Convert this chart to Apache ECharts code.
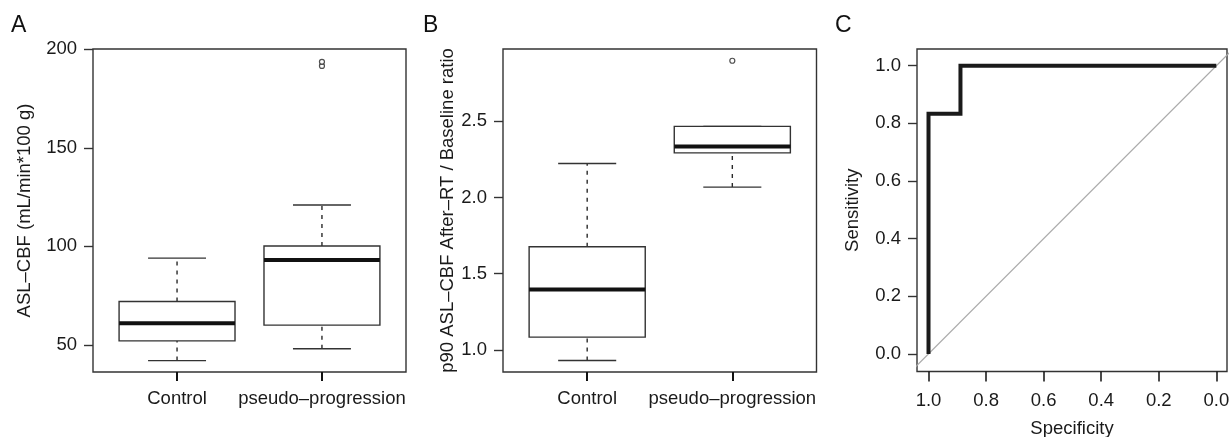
<!DOCTYPE html>
<html>
<head>
<meta charset="utf-8">
<script src="https://cdn.jsdelivr.net/npm/echarts@6/dist/echarts.min.js"></script>
<style>
html,body{margin:0;padding:0;background:#fff;}
#chart{width:1231px;height:437px;}
</style>
</head>
<body>
<div id="chart"></div>
<script>
// ---------- data ----------
const categories = ['Control', 'pseudo\u2013progression'];
// [min whisker, Q1, median, Q3, max whisker]
const cbfControl = [42, 52, 61, 72, 94];
const cbfPseudo = [48, 60, 93.1, 100.2, 121];
const cbfOutliersPseudo = [191.6, 193.7];
const ratioControl = [0.93, 1.083, 1.395, 1.676, 2.223];
const ratioPseudo = [2.068, 2.293, 2.334, 2.467, 2.467];
const ratioOutliersPseudo = [2.898];
const rocSpecificity = [1.0, 1.0, 0.889, 0.889, 0.0];
const rocSensitivity = [0.0, 0.833, 0.833, 1.0, 1.0];
const chanceSpecificity = [1.2, -0.2];
const chanceSensitivity = [-0.2, 1.2];
const cbfTicks = [50, 100, 150, 200];
const ratioTicks = [1.0, 1.5, 2.0, 2.5];
const rocTicks = [0.0, 0.2, 0.4, 0.6, 0.8, 1.0];
const catTicks = [1, 2];
const panelLetters = ['A', 'B', 'C'];
const yTitles = ['ASL\u2013CBF (mL/min*100 g)', 'p90 ASL\u2013CBF After\u2013RT / Baseline ratio', 'Sensitivity'];
const xTitleROC = 'Specificity';

// ---------- helpers ----------
const FONT = 'Liberation Sans, Arial, Helvetica, sans-serif';
const TXT = '#1a1a1a';
const LINE = '#333';
const FS = 18.5;

function boxData(stats) {
  return stats.map((s, i) => [catTicks[i]].concat(s));
}
function boxRender(params, api) {
  const x = api.value(0);
  const lo = api.value(1), q1 = api.value(2), med = api.value(3), q3 = api.value(4), hi = api.value(5);
  const halfBox = 0.4, halfCap = 0.2;
  const pL = api.coord([x - halfBox, q1]);
  const pR = api.coord([x + halfBox, q3]);
  const pc = (v) => api.coord([x, v]);
  const cL = api.coord([x - halfCap, lo])[0];
  const cR = api.coord([x + halfCap, lo])[0];
  const children = [];
  const dash = {stroke: '#2a2a2a', lineWidth: 1.4, lineDash: [4, 5]};
  children.push({type: 'line', shape: {x1: pc(q3)[0], y1: pc(q3)[1], x2: pc(hi)[0], y2: pc(hi)[1]}, style: dash});
  children.push({type: 'line', shape: {x1: pc(lo)[0], y1: pc(lo)[1], x2: pc(q1)[0], y2: pc(q1)[1]}, style: dash});
  children.push({type: 'line', shape: {x1: cL, y1: pc(hi)[1], x2: cR, y2: pc(hi)[1]}, style: {stroke: '#333', lineWidth: 1.4}});
  children.push({type: 'line', shape: {x1: cL, y1: pc(lo)[1], x2: cR, y2: pc(lo)[1]}, style: {stroke: '#333', lineWidth: 1.4}});
  children.push({type: 'rect', shape: {x: pL[0], y: pR[1], width: pR[0] - pL[0], height: pL[1] - pR[1]},
    style: {fill: '#fff', stroke: LINE, lineWidth: 1.4}});
  const m = api.coord([x - halfBox, med]);
  children.push({type: 'line', shape: {x1: pL[0], y1: m[1], x2: pR[0], y2: m[1]}, style: {stroke: '#111', lineWidth: 4}});
  return {type: 'group', children: children};
}

function yAxisCfg(idx, min, max, ticks, fmt, gap) {
  return {
    type: 'value', gridIndex: idx, min: min, max: max, position: 'left',
    splitLine: {show: false}, axisLine: {show: false, onZero: false},
    axisTick: {show: true, length: 9, customValues: ticks, lineStyle: {color: LINE, width: 1.4}},
    axisLabel: {customValues: ticks, formatter: fmt, margin: 16, color: TXT, fontSize: FS, fontFamily: FONT},
    name: yTitles[idx], nameLocation: 'middle', nameRotate: 90, nameGap: gap,
    nameTextStyle: {color: TXT, fontSize: FS, fontFamily: FONT}
  };
}
function xCatAxisCfg(idx) {
  return {
    type: 'value', gridIndex: idx, min: 0.42, max: 2.58, position: 'bottom',
    splitLine: {show: false}, axisLine: {show: false, onZero: false},
    axisTick: {show: true, length: 9, customValues: catTicks, lineStyle: {color: '#111', width: 2}},
    axisLabel: {customValues: catTicks, formatter: (v) => categories[Math.round(v) - 1] || '',
      margin: 17, color: TXT, fontSize: FS, fontFamily: FONT}
  };
}

const grids = [
  {left: 93, top: 49, width: 313, height: 323},
  {left: 503, top: 49, width: 313.5, height: 323},
  {left: 917, top: 49, width: 310, height: 322.5}
].map(g => Object.assign({show: true, borderColor: LINE, borderWidth: 1.4, backgroundColor: 'transparent',
  containLabel: false, outerBoundsMode: 'none'}, g));

const option = {
  animation: false,
  backgroundColor: '#fff',
  grid: grids,
  xAxis: [
    xCatAxisCfg(0),
    xCatAxisCfg(1),
    {
      type: 'value', gridIndex: 2, min: -0.037, max: 1.04, inverse: true, position: 'bottom',
      splitLine: {show: false}, axisLine: {show: false, onZero: false},
      axisTick: {show: true, length: 10, customValues: rocTicks, lineStyle: {color: '#111', width: 1.5}},
      axisLabel: {customValues: rocTicks, formatter: (v) => v.toFixed(1), margin: 20, color: TXT, fontSize: FS, fontFamily: FONT},
      name: xTitleROC, nameLocation: 'middle', nameGap: 48,
      nameTextStyle: {color: TXT, fontSize: FS, fontFamily: FONT}
    }
  ],
  yAxis: [
    yAxisCfg(0, 36.2, 200.2, cbfTicks, (v) => String(Math.round(v)), 59),
    yAxisCfg(1, 0.854, 2.975, ratioTicks, (v) => v.toFixed(1), 46),
    yAxisCfg(2, -0.061, 1.058, rocTicks, (v) => v.toFixed(1), 55)
  ],
  graphic: panelLetters.map((t, i) => ({
    type: 'text', left: [11, 423, 835][i], top: 14,
    style: {text: t, fontSize: 23, fontFamily: FONT, fill: '#111'}
  })),
  series: [
    {type: 'custom', xAxisIndex: 0, yAxisIndex: 0, renderItem: boxRender,
      encode: {x: 0, y: [1, 2, 3, 4, 5]}, data: boxData([cbfControl, cbfPseudo]), clip: false},
    {type: 'scatter', xAxisIndex: 0, yAxisIndex: 0, symbol: 'circle', symbolSize: 5,
      itemStyle: {color: '#fff', borderColor: '#222', borderWidth: 1.2},
      data: cbfOutliersPseudo.map(v => [catTicks[1], v])},
    {type: 'custom', xAxisIndex: 1, yAxisIndex: 1, renderItem: boxRender,
      encode: {x: 0, y: [1, 2, 3, 4, 5]}, data: boxData([ratioControl, ratioPseudo]), clip: false},
    {type: 'scatter', xAxisIndex: 1, yAxisIndex: 1, symbol: 'circle', symbolSize: 5,
      itemStyle: {color: '#fff', borderColor: '#222', borderWidth: 1.2},
      data: ratioOutliersPseudo.map(v => [catTicks[1], v])},
    {type: 'line', xAxisIndex: 2, yAxisIndex: 2, showSymbol: false, clip: true, silent: true,
      lineStyle: {color: '#aaa', width: 1.3},
      data: chanceSpecificity.map((s, i) => [s, chanceSensitivity[i]])},
    {type: 'line', xAxisIndex: 2, yAxisIndex: 2, showSymbol: false, clip: false,
      lineStyle: {color: '#1a1a1a', width: 4, join: 'miter', cap: 'butt'},
      data: rocSpecificity.map((s, i) => [s, rocSensitivity[i]])}
  ]
};
const chart = echarts.init(document.getElementById('chart'), null, {renderer: 'canvas'});
chart.setOption(option);
</script>
</body>
</html>
